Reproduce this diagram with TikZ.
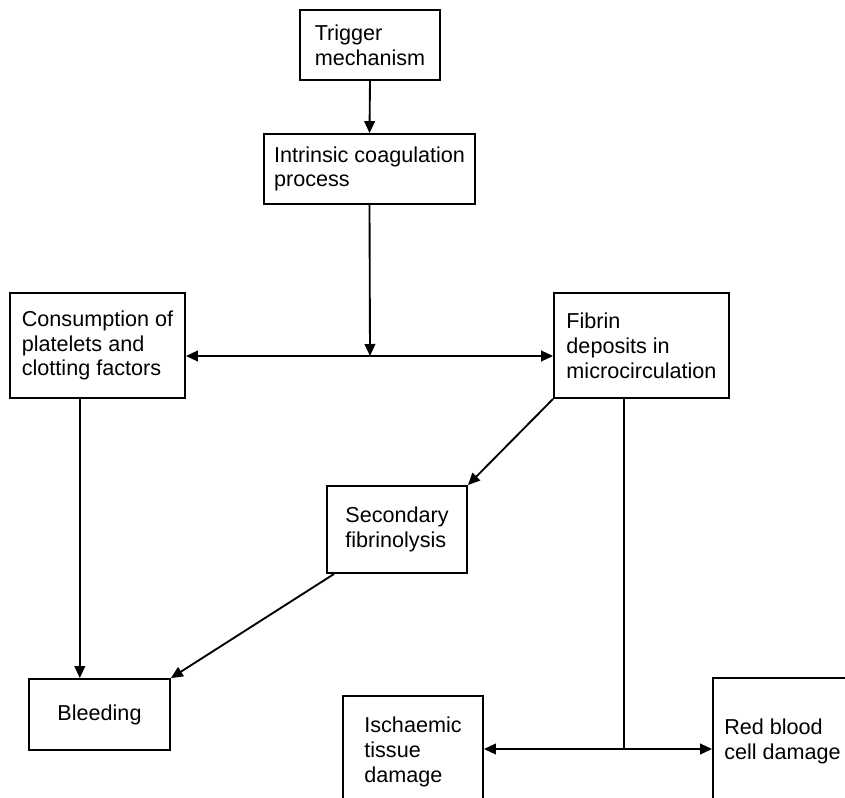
\documentclass[tikz,border=0pt]{standalone}
\usepackage{fontspec}
\setmainfont{Liberation Sans}
\usetikzlibrary{arrows.meta,calc}

\begin{document}
\begin{tikzpicture}[x=0.75pt,y=-0.75pt,
  box/.style={draw,line width=1.4pt,align=left,inner sep=0pt,
    font=\fontsize{16.2}{18.6}\selectfont},
  arr/.style={line width=1.4pt,-{Triangle[length=9pt,width=8pt]}},
  dblarr/.style={line width=1.4pt,{Triangle[length=9pt,width=8pt]}-{Triangle[length=9pt,width=8pt]}}]
\useasboundingbox (0,0) rectangle (845,797);
\clip (0,0) rectangle (845,797); % boxes at the bottom run off the page

\node[box,minimum width=105pt,minimum height=52.5pt] (trig) at (370,45) {Trigger\\mechanism};
\node[box,minimum width=158.25pt,minimum height=52.5pt] (intr) at (369.5,169) {Intrinsic coagulation\\process};
\node[box,minimum width=131.25pt,minimum height=78.75pt] (cons) at (97.5,345.5) {Consumption of\\platelets and\\clotting factors};
\node[box,minimum width=131.25pt,minimum height=78.75pt] (fib) at (641.5,345.5) {Fibrin\\deposits in\\microcirculation};
\node[box,minimum width=105pt,minimum height=65.25pt] (sec) at (397,529.5) {Secondary\\fibrinolysis};
\node[box,minimum width=105.75pt,minimum height=53.25pt] (bleed) at (99.5,714.5) {Bleeding};
\node[box,minimum width=105pt,minimum height=84pt] (isch) at (413,752) {Ischaemic\\tissue\\damage};
\node[box,minimum width=104.25pt,minimum height=94.5pt] (red) at (782.5,741) {Red blood\\cell damage};

\coordinate (mid) at (370,356); % where the coagulation arrow meets the split
\coordinate (split) at ($(fib.south west)!0.4!(fib.south east)$);
\coordinate (splitend) at (623,749);
\coordinate (consout) at ($(cons.south west)!0.4!(cons.south east)$);

\draw[arr] (trig.south) -- (intr.north);
\draw[arr] (intr.south) -- (mid);
\draw[dblarr] (cons.east |- mid) -- (fib.west |- mid);
\draw[arr] (consout) -- (consout |- bleed.north);
\draw[arr] (fib.south west) -- (sec.north east);
\draw[arr] ($(sec.south west)+(8,0)$) -- (bleed.north east);
\draw[line width=1.4pt] (split) -- (split |- splitend);
\draw[dblarr] (isch.east |- splitend) -- (red.west |- splitend);
\end{tikzpicture}
\end{document}
